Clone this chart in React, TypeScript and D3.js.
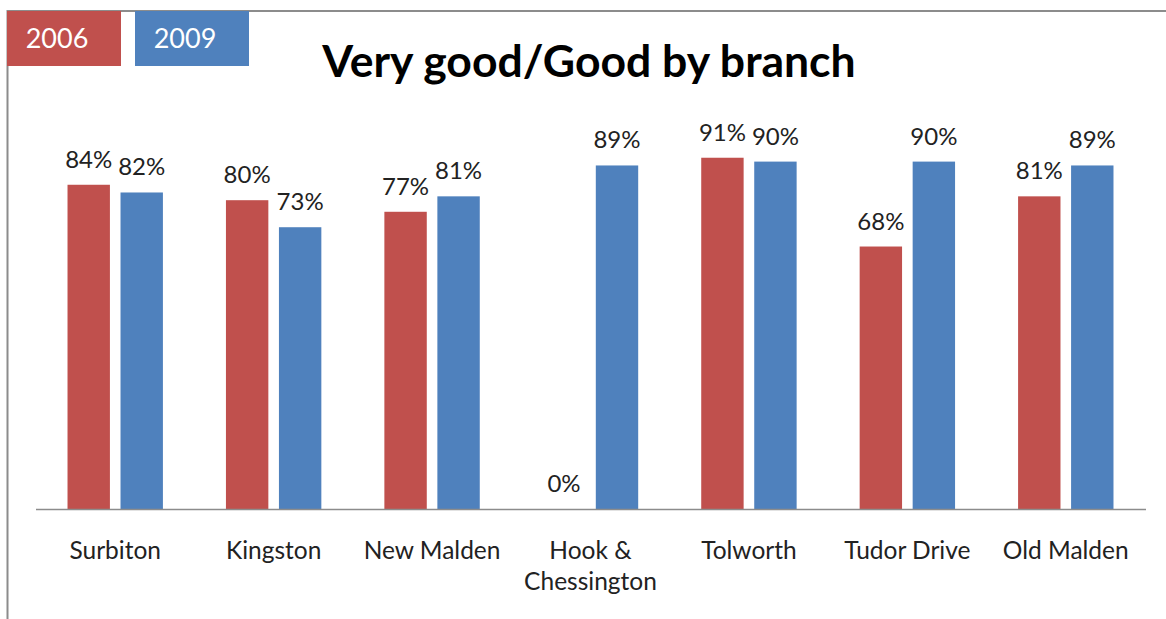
import React from "react";
import * as d3 from "d3";

const categories: string[][] = [
  ["Surbiton"],
  ["Kingston"],
  ["New Malden"],
  ["Hook &", "Chessington"],
  ["Tolworth"],
  ["Tudor Drive"],
  ["Old Malden"],
];
const seriesNames = ["2006", "2009"];
const values2006 = [0.84, 0.8, 0.77, 0, 0.91, 0.68, 0.81];
const values2009 = [0.82, 0.73, 0.81, 0.89, 0.9, 0.9, 0.89];
const seriesColors = ["#C0504D", "#4F81BD"];
const title = "Very good/Good by branch";

const FONT = "Lato, 'Open Sans', sans-serif";

export default function App() {
  const W = 1166;
  const H = 619;
  const ids = categories.map((c) => c.join(" "));
  const x0 = d3.scaleBand<string>().domain(ids).range([36, 1145]).padding(0);
  const x1 = d3
    .scaleBand<string>()
    .domain(seriesNames)
    .range([0, 95.4])
    .paddingInner(0.2)
    .paddingOuter(0);
  const y = d3.scaleLinear().domain([0, 1]).range([509, 123]);
  const series = [values2006, values2009];
  const fmt = d3.format(".0%");

  return (
    <svg
      width={W}
      height={H}
      style={{ position: "absolute", left: 0, top: 0, background: "#fff" }}
    >
      {/* frame */}
      <line x1={7} y1={11} x2={W} y2={11} stroke="#8c8c8c" strokeWidth={2} />
      <line x1={7.5} y1={10} x2={7.5} y2={H} stroke="#8c8c8c" strokeWidth={2} />

      {/* legend */}
      {seriesNames.map((s, i) => (
        <g key={s}>
          <rect x={7 + i * 128} y={11} width={114} height={55} fill={seriesColors[i]} />
          <text
            x={7 + i * 128 + 50}
            y={48}
            fill="#fff"
            fontFamily={FONT}
            fontSize={27}
            textAnchor="middle"
          >
            {s}
          </text>
        </g>
      ))}

      {/* title */}
      <text
        x={589}
        y={77}
        fontFamily={FONT}
        fontWeight="bold"
        fontSize={44.5}
        textAnchor="middle"
        fill="#000"
      >
        {title}
      </text>

      {/* bars */}
      {ids.map((id, ci) => {
        const cx = (x0(id) as number) + x0.bandwidth() / 2;
        const left = cx - 47.7;
        return (
          <g key={id}>
            {seriesNames.map((s, si) => {
              const v = series[si][ci];
              const bx = left + (x1(s) as number);
              return (
                <g key={s}>
                  {v > 0 && (
                    <rect
                      x={bx}
                      y={y(v)}
                      width={x1.bandwidth()}
                      height={y(0) - y(v)}
                      fill={seriesColors[si]}
                    />
                  )}
                  <text
                    x={bx + x1.bandwidth() / 2}
                    y={y(v) - 17}
                    fontFamily={FONT}
                    fontSize={24}
                    textAnchor="middle"
                    fill="#222"
                  >
                    {fmt(v)}
                  </text>
                </g>
              );
            })}
            {categories[ci].map((line, li) => (
              <text
                key={li}
                x={cx}
                y={559 + li * 31}
                fontFamily={FONT}
                fontSize={24.5}
                textAnchor="middle"
                fill="#222"
              >
                {line}
              </text>
            ))}
          </g>
        );
      })}

      {/* axis */}
      <line x1={36} y1={509.5} x2={1146} y2={509.5} stroke="#8c8c8c" strokeWidth={1.5} />
    </svg>
  );
}
